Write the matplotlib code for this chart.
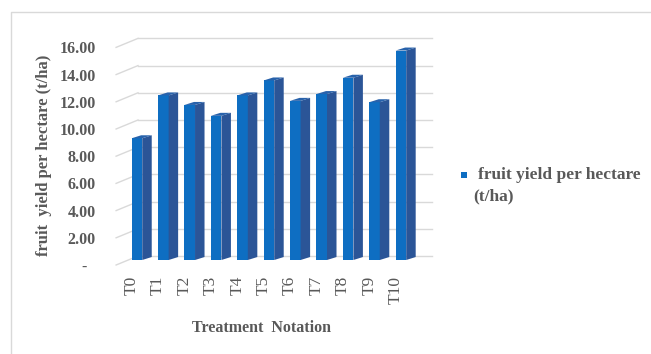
import numpy as np
import matplotlib.pyplot as plt
from matplotlib.lines import Line2D
from matplotlib.patches import Polygon, Rectangle

treatments = ['T0', 'T1', 'T2', 'T3', 'T4', 'T5', 'T6', 'T7', 'T8', 'T9', 'T10']
yield_tha = [8.95, 12.1, 11.4, 10.6, 12.1, 13.2, 11.7, 12.2, 13.4, 11.6, 15.4]
ytick_vals = [0, 2, 4, 6, 8, 10, 12, 14, 16]
ytick_text = ['-  ', '2.00', '4.00', '6.00', '8.00', '10.00', '12.00', '14.00', '16.00']

plt.rcParams['font.family'] = ['Liberation Serif', 'DejaVu Serif']
GREY = '#595959'
GRID = '#d9d9d9'
FRONT = '#0e6ec2'
SIDE = '#2b5597'
TOP = '#2862ab'

fig = plt.figure(figsize=(6.51, 3.54), dpi=100)
ax = fig.add_axes([100/651, 84/354, 350/651, 240/354])
ax.set_xlim(-1.4, 11.86)
ax.set_ylim(-0.735, 16.91)
for s in ax.spines.values():
    s.set_visible(False)

# fake 3d: wall offset and bar depth in data units
wall_dy = 0.294
front_dy = -0.368
wall_x0, wall_x1 = 0.04, 11.18
side_x0 = -0.79
bw = 0.4
ddx, ddy = 0.36, 0.22

for v in ytick_vals:
    ax.plot([side_x0, wall_x0], [v + front_dy, v + wall_dy], color=GRID, lw=1, zorder=1)
    ax.plot([wall_x0, wall_x1], [v + wall_dy, v + wall_dy], color=GRID, lw=1, zorder=1)

x = np.arange(len(treatments))
ax.bar(x, yield_tha, width=bw, color=FRONT, zorder=3)
for xi, v in zip(x, yield_tha):
    r = xi + bw/2
    l = xi - bw/2
    ax.add_patch(Polygon([(r, 0), (r + ddx, ddy), (r + ddx, v + ddy), (r, v)],
                         closed=True, color=SIDE, lw=0, zorder=3))
    ax.add_patch(Polygon([(l, v), (r, v), (r + ddx, v + ddy), (l + ddx, v + ddy)],
                         closed=True, color=TOP, lw=0, zorder=3))

ax.set_yticks(np.array(ytick_vals) + front_dy, ytick_text)
ax.tick_params(axis='y', length=0, pad=3, labelsize=11.5, labelcolor=GREY)
for t in ax.get_yticklabels():
    t.set_fontweight('bold')
ax.set_xticks(x - 0.2, treatments, rotation=90)
ax.tick_params(axis='x', length=0, pad=4, labelsize=12.5, labelcolor=GREY)

fig.text(44/651, 1 - 155/354, 'fruit  yield per hectare (t/ha)', rotation=90,
         ha='center', va='center', fontsize=12, fontweight='bold', color=GREY)
fig.text(262/651, 1 - 328/354, 'Treatment  Notation', ha='center', va='center',
         fontsize=11.5, fontweight='bold', color=GREY)

# legend
fig.add_artist(Rectangle((461/651, 1 - 178/354), 6/651, 6/354, transform=fig.transFigure,
                         color=FRONT, lw=0))
fig.text(478/651, 1 - 175/354, 'fruit yield per hectare', ha='left', va='center',
         fontsize=12.5, fontweight='bold', color=GREY)
fig.text(473/651, 1 - 196/354, '(t/ha)', ha='left', va='center',
         fontsize=12.5, fontweight='bold', color=GREY)

# chart area border
fig.add_artist(Line2D([11/651, 11/651, 1], [0, 1 - 12/354, 1 - 12/354],
                      transform=fig.transFigure, color=GRID, lw=1))

fig.savefig('out.png', dpi=100)
